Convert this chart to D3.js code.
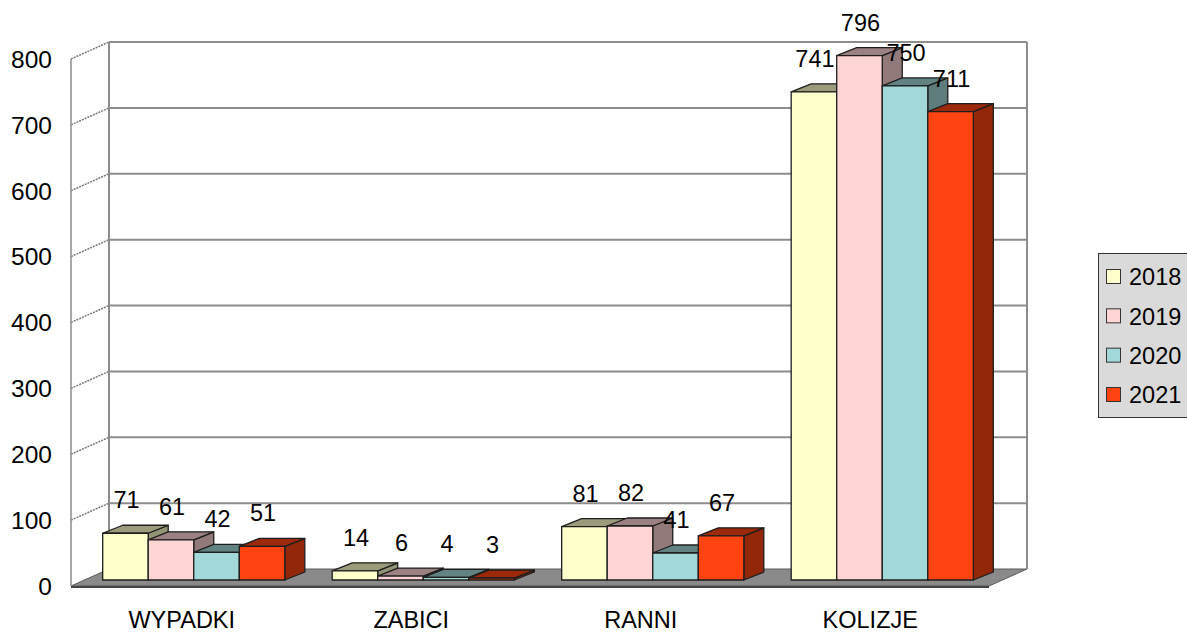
<!DOCTYPE html>
<html>
<head>
<meta charset="utf-8">
<script src="https://cdn.jsdelivr.net/npm/d3@7"></script>
<style>
  body { margin: 0; background: #fff; }
  svg { display: block; font-family: Arial, "Liberation Sans", sans-serif; }
</style>
</head>
<body>
<svg id="chart" width="1187" height="633"></svg>
<script>
//
// Data
//

var categories = ['WYPADKI', 'ZABICI', 'RANNI', 'KOLIZJE']
var years = ['2018', '2019', '2020', '2021']
var values2018 = [71, 14, 81, 741]
var values2019 = [61, 6, 82, 796]
var values2020 = [42, 4, 41, 750]
var values2021 = [51, 3, 67, 711]
var yTicks = [0, 100, 200, 300, 400, 500, 600, 700, 800]
var seriesColors = ['#ffffcc', '#ffd4d4', '#a3d8d8', '#ff4411']

//
// Configuration
//

// front plane of the box
var frontLeft = 71, frontRight = 989
var frontBottom = 586, frontTop = 59
// offset of the back wall from the front plane
var wallDx = 38, wallDy = -17
// bars sit a bit behind the front plane and have their own depth
var barDx = 8, barDy = -6
var depthDx = 20, depthDy = -8
var fontSize = 23.5

//
// Variables
//

var svg = d3.select('#chart')
var series = [values2018, values2019, values2020, values2021]

var x = d3.scaleBand().domain(categories).range([frontLeft, frontRight])
var xInner = d3.scaleBand().domain(years)
  .range([0, x.bandwidth()])
  .paddingInner(0)
  .paddingOuter(0.52)
var y = d3.scaleLinear().domain([0, 800]).range([frontBottom, frontTop])
var legendY = d3.scalePoint().domain(years).range([277, 395])

function pts(list) {
  return list.map(function(p) { return p.join(',') }).join(' ')
}

//
// Walls and floor
//

function drawBox() {
  var backLeft = frontLeft + wallDx
  var backRight = frontRight + wallDx

  // floor
  svg.append('polygon')
    .attr('points', pts([
      [frontLeft, y(0)], [frontRight, y(0)],
      [backRight, y(0) + wallDy], [backLeft, y(0) + wallDy]
    ]))
    .attr('fill', '#8a8a8a')
    .attr('stroke', '#5a5a5a')
    .attr('stroke-width', 1)
  svg.append('line')
    .attr('x1', frontLeft).attr('x2', frontRight)
    .attr('y1', y(0) + 1).attr('y2', y(0) + 1)
    .attr('stroke', '#444').attr('stroke-width', 2)

  // back wall gridlines
  svg.selectAll('.grid')
    .data(yTicks.slice(1))
    .enter().append('line')
    .attr('class', 'grid')
    .attr('x1', backLeft).attr('x2', backRight)
    .attr('y1', function(d) { return y(d) + wallDy })
    .attr('y2', function(d) { return y(d) + wallDy })
    .attr('stroke', '#8c8c8c').attr('stroke-width', 2)

  // side wall gridlines
  svg.selectAll('.sidegrid')
    .data(yTicks.slice(1))
    .enter().append('line')
    .attr('class', 'sidegrid')
    .attr('x1', frontLeft).attr('x2', backLeft)
    .attr('y1', function(d) { return y(d) })
    .attr('y2', function(d) { return y(d) + wallDy })
    .attr('stroke', '#777').attr('stroke-width', 1.5)
    .attr('stroke-dasharray', '2,1')

  // wall edges
  svg.append('line')
    .attr('x1', backLeft).attr('x2', backLeft)
    .attr('y1', y(800) + wallDy).attr('y2', y(0) + wallDy)
    .attr('stroke', '#8c8c8c').attr('stroke-width', 2)
  svg.append('line')
    .attr('x1', backRight).attr('x2', backRight)
    .attr('y1', y(800) + wallDy).attr('y2', y(0) + wallDy)
    .attr('stroke', '#8c8c8c').attr('stroke-width', 2)
  svg.append('line')
    .attr('x1', frontLeft).attr('x2', frontLeft)
    .attr('y1', y(800)).attr('y2', y(0))
    .attr('stroke', '#8c8c8c').attr('stroke-width', 1.5)
}

//
// Bars
//

function drawBars() {
  var w = xInner.bandwidth()
  categories.forEach(function(cat, ci) {
    years.forEach(function(yr, si) {
      var v = series[si][ci]
      var color = d3.color(seriesColors[si])
      var x0 = x(cat) + xInner(yr) + barDx
      var yt = y(v) + barDy
      var yb = y(0) + barDy
      var g = svg.append('g')
        .attr('stroke', '#1e1e1e')
        .attr('stroke-width', 1.3)
        .attr('stroke-linejoin', 'round')
      g.append('polygon')
        .attr('points', pts([
          [x0 + w, yt], [x0 + w + depthDx, yt + depthDy],
          [x0 + w + depthDx, yb + depthDy], [x0 + w, yb]
        ]))
        .attr('fill', color.darker(1.55))
      g.append('polygon')
        .attr('points', pts([
          [x0, yt], [x0 + w, yt],
          [x0 + w + depthDx, yt + depthDy], [x0 + depthDx, yt + depthDy]
        ]))
        .attr('fill', color.darker(1.4))
      g.append('rect')
        .attr('x', x0).attr('y', yt)
        .attr('width', w).attr('height', yb - yt)
        .attr('fill', color)
    })
  })

  // data labels on top of everything
  categories.forEach(function(cat, ci) {
    years.forEach(function(yr, si) {
      var v = series[si][ci]
      svg.append('text')
        .attr('x', x(cat) + xInner(yr) + barDx + xInner.bandwidth() / 2 + 1)
        .attr('y', y(v) + barDy - 25)
        .attr('text-anchor', 'middle')
        .attr('font-size', fontSize)
        .attr('fill', '#000')
        .text(v)
    })
  })
}

//
// Axis labels and legend
//

function drawLabels() {
  svg.selectAll('.ytick')
    .data(yTicks)
    .enter().append('text')
    .attr('class', 'ytick')
    .attr('x', 52)
    .attr('y', function(d) { return y(d) })
    .attr('dy', '0.36em')
    .attr('text-anchor', 'end')
    .attr('font-size', 24.5)
    .text(function(d) { return d })

  svg.selectAll('.xlabel')
    .data(categories)
    .enter().append('text')
    .attr('class', 'xlabel')
    .attr('x', function(d) { return x(d) + x.bandwidth() / 2 - 4 })
    .attr('y', 628)
    .attr('text-anchor', 'middle')
    .attr('font-size', fontSize)
    .text(function(d) { return d })
}

function drawLegend() {
  svg.append('rect')
    .attr('x', 1098.5).attr('y', 253.5)
    .attr('width', 100).attr('height', 164)
    .attr('fill', '#dadada')
    .attr('stroke', '#333').attr('stroke-width', 1)

  var item = svg.selectAll('.legend')
    .data(years)
    .enter().append('g')
    .attr('class', 'legend')
    .attr('transform', function(d) { return 'translate(1106,' + legendY(d) + ')' })
  item.append('rect')
    .attr('x', 0.5).attr('y', -7.5)
    .attr('width', 14).attr('height', 14)
    .attr('fill', function(d, i) { return seriesColors[i] })
    .attr('stroke', '#333').attr('stroke-width', 1)
  item.append('text')
    .attr('x', 23)
    .attr('dy', '0.36em')
    .attr('font-size', fontSize)
    .text(function(d) { return d })
}

//
// Initialization
//

drawBox()
drawBars()
drawLabels()
drawLegend()
</script>
</body>
</html>
